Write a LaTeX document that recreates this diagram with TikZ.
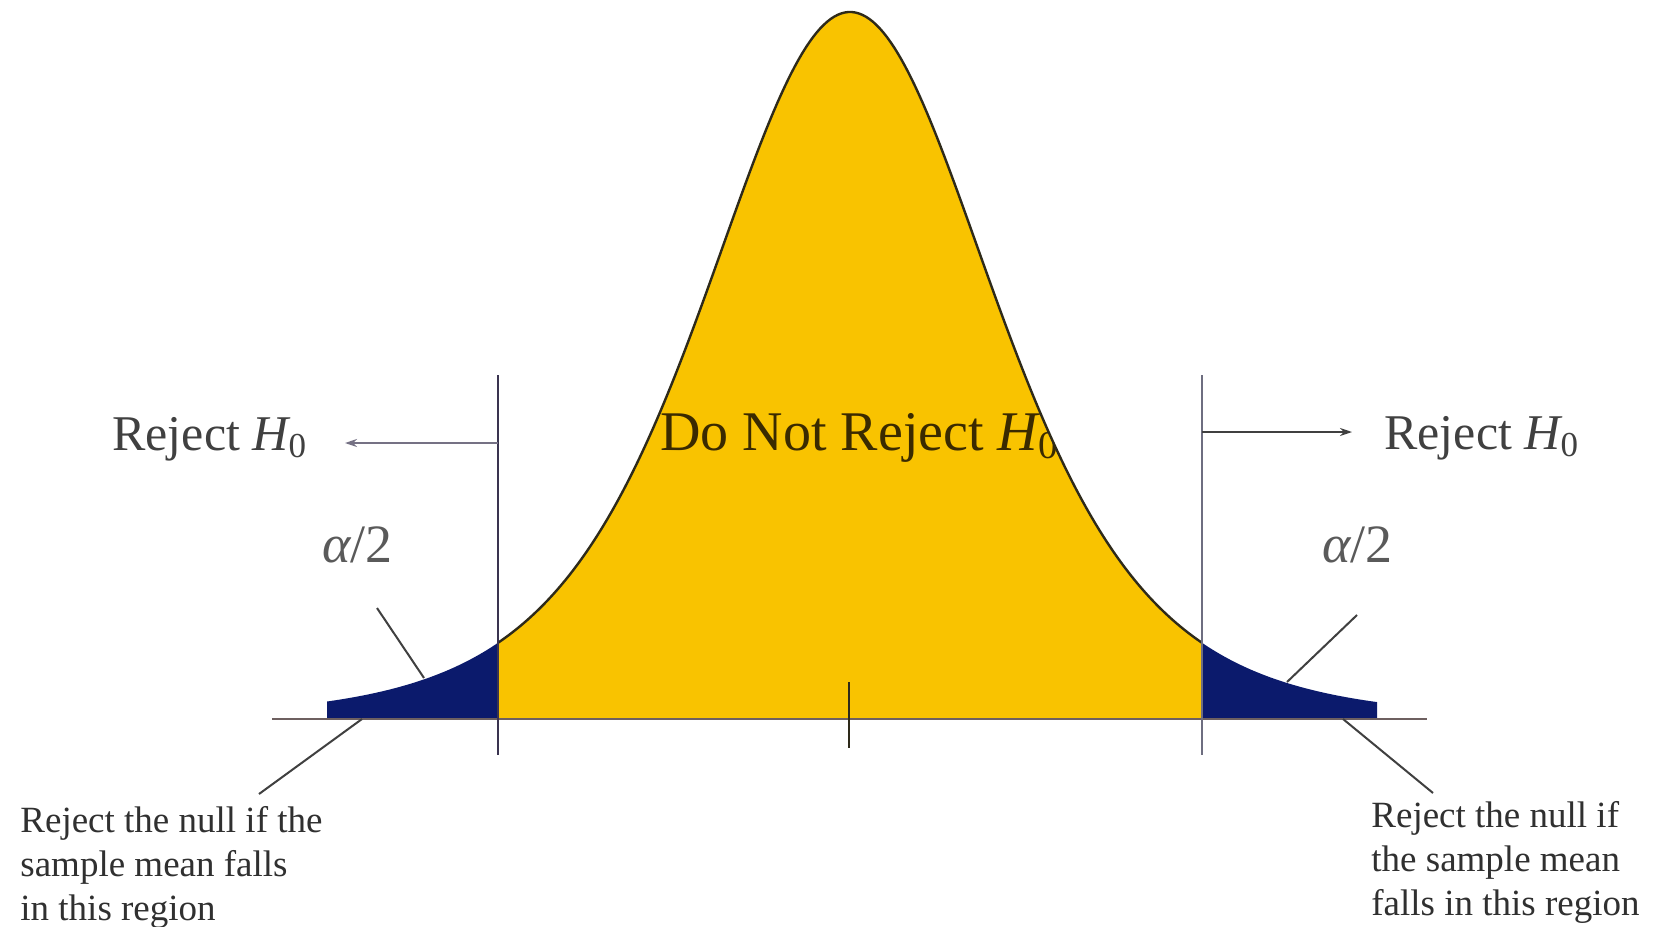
\documentclass[tikz,border=0pt]{standalone}
\usepackage{fontspec}
\setmainfont{Liberation Serif}
\usetikzlibrary{arrows.meta}
\definecolor{gold}{HTML}{F9C300}
\definecolor{navy}{HTML}{0B1A6C}
\definecolor{outl}{HTML}{2E2A1A}
\definecolor{axisc}{HTML}{6E6060}
\definecolor{vlineL}{HTML}{3A3450}
\definecolor{vlineR}{HTML}{6E6E80}
\definecolor{labc}{HTML}{404040}
\definecolor{alphac}{HTML}{5A5A5A}
\definecolor{notec}{HTML}{303030}
\definecolor{midc}{HTML}{3A2A00}
\tikzset{
  thinline/.style={line width=1pt},
  pointer/.style={line width=1pt, draw=labc},
  sidelabel/.style={inner sep=0pt, anchor=base west, text=labc, font=\fontsize{25}{30}\selectfont},
  alphalabel/.style={inner sep=0pt, anchor=base west, text=alphac, font=\fontsize{27}{32}\selectfont},
  notelabel/.style={inner sep=0pt, anchor=north west, align=left, text=notec, font=\fontsize{18.5}{22}\selectfont},
  midlabel/.style={inner sep=0pt, anchor=base west, text=midc, font=\fontsize{28}{33}\selectfont},
  arrowline/.style={line width=1pt, -{Stealth[length=6pt,width=4pt]}}
}
\begin{document}
\begin{tikzpicture}[x=0.5pt,y=-0.5pt,
  declare function={dens(\x)=707/((1+((\x-850)/150)*((\x-850)/150)/5)^3);}]
\useasboundingbox (0,0) rectangle (1658,926);
\fill[white] (0,0) rectangle (1658,926);

% tails
\fill[navy] (327,719) -- plot[domain=327:498,samples=60] (\x,{719-dens(\x)}) -- (498,719) -- cycle;
\fill[navy] (1202,719) -- plot[domain=1202:1377,samples=60] (\x,{719-dens(\x)}) -- (1377,719) -- cycle;
% central region
\fill[gold] (498,719) -- plot[domain=498:1202,samples=200] (\x,{719-dens(\x)}) -- (1202,719) -- cycle;
\begin{scope}
  \clip (498,719) -- plot[domain=498:1202,samples=200] (\x,{719-dens(\x)}) -- (1202,719) -- cycle;
  \node[midlabel] (mid) at (660,450) {Do Not Reject {\itshape H}\textsubscript{0}};
\end{scope}
\draw[outl, line width=1.2pt] plot[domain=498:1202,samples=200] (\x,{719-dens(\x)});

% axis
\coordinate (axL) at (272,719);
\coordinate (axR) at (1427,719);
\draw[axisc, line width=1.3pt] (axL) -- (axR);

% critical lines and centre tick
\coordinate (cLt) at (498,375);
\coordinate (cLb) at (498,755);
\coordinate (cRt) at (1202,375);
\coordinate (cRb) at (1202,755);
\coordinate (tkt) at (849,682);
\coordinate (tkb) at (849,748);
\draw[vlineL, line width=1.2pt] (cLt) -- (cLb);
\draw[vlineR, line width=1.2pt] (cRt) -- (cRb);
\draw[outl, line width=1.2pt] (tkt) -- (tkb);

% side labels and arrows
\node[sidelabel] (rejL) at (112,450) {Reject {\itshape H}\textsubscript{0}};
\node[sidelabel] (rejR) at (1384,449) {Reject {\itshape H}\textsubscript{0}};
\coordinate (aLs) at (498,443);
\coordinate (aLe) at (345,443);
\coordinate (aRs) at (1202,432);
\coordinate (aRe) at (1352,432);
\draw[arrowline, draw=vlineL!70!white] (aLs) -- (aLe);
\draw[arrowline, draw=labc] (aRs) -- (aRe);

% alpha/2 labels and pointers
\node[alphalabel] (alL) at (322,562) {{\itshape α}/2};
\node[alphalabel] (alR) at (1322,562) {{\itshape α}/2};
\coordinate (pL1) at (377,608);
\coordinate (pL2) at (424,678);
\coordinate (pR1) at (1357,615);
\coordinate (pR2) at (1287,682);
\draw[pointer] (pL1) -- (pL2);
\draw[pointer] (pR1) -- (pR2);

% notes and pointers
\node[notelabel] (noteL) at (20,806) {Reject the null if the\\sample mean falls\\in this region};
\node[notelabel] (noteR) at (1371,801) {Reject the null if\\the sample mean\\falls in this region};
\coordinate (qL1) at (362,719);
\coordinate (qL2) at (259,794);
\coordinate (qR1) at (1343,719);
\coordinate (qR2) at (1433,793);
\draw[pointer] (qL1) -- (qL2);
\draw[pointer] (qR1) -- (qR2);
\end{tikzpicture}
\end{document}
